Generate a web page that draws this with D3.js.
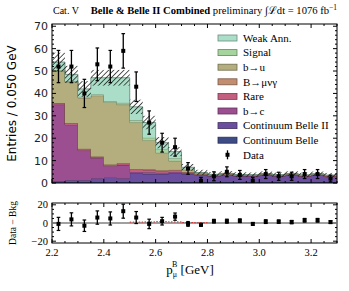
<!DOCTYPE html>
<html>
<head>
<meta charset="utf-8">
<script src="https://cdn.jsdelivr.net/npm/d3@7"></script>
<style>
  body { margin: 0; background: #fff; }
  svg { display: block; }
  .serif { font-family: "Liberation Serif", "DejaVu Serif", serif; }
  .sans { font-family: "DejaVu Sans", sans-serif; }
</style>
</head>
<body>
<svg id="chart" width="349" height="291" viewBox="0 0 349 291"></svg>
<script>
// bins of 0.050 GeV from 2.2 to 3.3
const binLow = [2.20,2.25,2.30,2.35,2.40,2.45,2.50,2.55,2.60,2.65,2.70,2.75,2.80,2.85,2.90,2.95,3.00,3.05,3.10,3.15,3.20,3.25]
const binWidth = 0.05

// stacked components (bottom to top)
const contBelle  = [0.5,0.5,0.5,0.5,0.5,0.5,0.5,0.5,0.5,0.5,0.5,0.4,0.4,0.4,0.4,0.4,0.4,0.4,0.4,0.4,0.4,0.4]
const contBelle2 = [0.3,0.7,0.7,1.5,2.0,1.5,4.0,3.5,3.5,4.0,3.5,3.0,2.5,3.0,2.5,2.5,3.0,2.5,3.0,2.5,3.0,2.5]
const bToC       = [34.2,24.8,13.3,9.0,5.0,6.0,0.5,0.8,0.6,0.5,0.3,0.2,0.2,0.2,0.2,0.2,0.2,0.2,0.2,0.2,0.2,0.1]
const rare       = [0.5,0.6,0.6,0.6,0.6,0.6,1.0,1.0,0.8,0.6,0.4,0.2,0.2,0.2,0.2,0.2,0.2,0.2,0.2,0.1,0.1,0.1]
const bMuNuGamma = [0.2,0.2,0.2,0.2,0.2,0.3,0.3,0.3,0.3,0.3,0.2,0.1,0.1,0.1,0.1,0.1,0.1,0.1,0.1,0.1,0.1,0.1]
const bToU       = [14.3,18.2,22.7,27.2,27.7,26.1,20.7,12.9,7.8,4.0,1.0,0.3,0.2,0.2,0.2,0.1,0.1,0.1,0.1,0.1,0.1,0.1]
const signal     = [0.5,0.5,0.5,0.5,0.5,0.8,1.0,1.2,1.5,1.2,0.5,0.3,0.2,0.1,0.1,0.1,0.1,0.1,0.1,0.1,0.1,0.1]
const weakAnn    = [3.5,3.0,3.5,7.5,10.5,11.2,6.0,6.8,3.0,2.9,0.6,0.2,0.1,0.1,0.1,0.1,0.1,0.1,0.1,0.1,0.1,0.1]

// MC uncertainty (hatched band)
const mcErr = [4.2,3.8,3.5,3.5,3.5,3.5,3.2,3.0,2.5,2.0,1.5,1.2,1.0,1.0,1.0,1.0,1.0,1.0,1.0,1.0,1.0,1.0]

// data
const dataVal = [52,52,40,53,52,59,43,27,18,16,6.5,1,3,5,3.6,1,4,3,3,4,4,2]
const dataErr = [7.2,7.2,6.3,7.3,7.2,7.7,6.6,5.2,4.2,4.0,2.6,1.5,2.0,2.2,2.0,1.5,2.0,1.8,1.8,2.0,2.0,1.5]

// data - bkg
const residVal = [-1,4,-3,6,5,13,6,-1,2,7,-1,-2,2,2,2.5,-1,1.5,1.5,1,3,3,1]

const layerNames  = ["Continuum Belle","Continuum Belle II","b\u2192c","Rare","B\u2192\u03bc\u03bd\u03b3","b\u2192u","Signal","Weak Ann."]
const layerColors = ["#3e4c86","#6b4f9e","#9b4f90","#c4607f","#c38e70","#b4ad7d","#a6d49d","#abdec8"]
const layerData   = [contBelle,contBelle2,bToC,rare,bMuNuGamma,bToU,signal,weakAnn]

const svg = d3.select("#chart")
const M = {left: 52, right: 337, top: 24, bottom: 183}
const R = {top: 203, bottom: 243}

const x = d3.scaleLinear().domain([2.2, 3.3]).range([M.left, M.right])
const y = d3.scaleLinear().domain([0, 71]).range([M.bottom, M.top])
const yr = d3.scaleLinear().domain([-22, 22]).range([R.bottom, R.top])

// hatch pattern
const defs = svg.append("defs")
const pat = defs.append("pattern")
    .attr("id", "hatch")
    .attr("patternUnits", "userSpaceOnUse")
    .attr("width", 3.6).attr("height", 3.6)
    .attr("patternTransform", "rotate(45)")
pat.append("line")
    .attr("x1", 0).attr("y1", 0).attr("x2", 0).attr("y2", 3.6)
    .attr("stroke", "#111").attr("stroke-width", 1.4)
defs.append("clipPath").attr("id", "clipMain")
    .append("rect").attr("x", M.left).attr("y", M.top)
    .attr("width", M.right - M.left).attr("height", M.bottom - M.top)

// stack
const table = binLow.map((b, i) => {
    const row = {lo: b, hi: b + binWidth}
    layerNames.forEach((n, k) => row[n] = layerData[k][i])
    return row
})
const stacked = d3.stack().keys(layerNames)(table)

const stepArea = d3.area()
    .x(d => x(d.xv))
    .y0(d => y(d.y0))
    .y1(d => y(d.y1))
const stepLine = d3.line()
    .x(d => x(d.xv))
    .y(d => y(d.y1))

const plot = svg.append("g").attr("clip-path", "url(#clipMain)")

stacked.forEach((layer, k) => {
    const pts = []
    layer.forEach(d => {
        pts.push({xv: d.data.lo, y0: d[0], y1: d[1]})
        pts.push({xv: d.data.hi, y0: d[0], y1: d[1]})
    })
    plot.append("path")
        .datum(pts)
        .attr("d", stepArea)
        .attr("fill", layerColors[k])
    plot.append("path")
        .datum(pts)
        .attr("d", stepLine)
        .attr("fill", "none")
        .attr("stroke", d3.color(layerColors[k]).darker(1.3))
        .attr("stroke-width", 0.9)
})

// uncertainty band
const topLayer = stacked[stacked.length - 1]
plot.selectAll(".band")
    .data(topLayer)
    .enter()
    .append("rect")
    .attr("x", d => x(d.data.lo))
    .attr("width", d => x(d.data.hi) - x(d.data.lo))
    .attr("y", (d, i) => y(d[1] + mcErr[i]))
    .attr("height", (d, i) => y(d[1] - mcErr[i]) - y(d[1] + mcErr[i]))
    .attr("fill", "url(#hatch)")

// data points
function drawPoints(g, vals, errs, ys) {
    const pts = g.selectAll(".pt")
        .data(vals)
        .enter()
        .append("g")
        .attr("transform", (d, i) => `translate(${x(binLow[i] + binWidth / 2)},0)`)
    pts.append("line")
        .attr("y1", (d, i) => ys(d - errs[i]))
        .attr("y2", (d, i) => ys(d + errs[i]))
        .attr("stroke", "#000").attr("stroke-width", 1.3)
    pts.append("line")
        .attr("x1", -1.8).attr("x2", 1.8)
        .attr("y1", (d, i) => ys(d - errs[i])).attr("y2", (d, i) => ys(d - errs[i]))
        .attr("stroke", "#000").attr("stroke-width", 1.2)
    pts.append("line")
        .attr("x1", -1.8).attr("x2", 1.8)
        .attr("y1", (d, i) => ys(d + errs[i])).attr("y2", (d, i) => ys(d + errs[i]))
        .attr("stroke", "#000").attr("stroke-width", 1.2)
    pts.append("rect")
        .attr("x", -2).attr("width", 4)
        .attr("y", d => ys(d) - 2).attr("height", 4)
        .attr("fill", "#000")
}
drawPoints(plot, dataVal, dataErr, y)

// axes with inward ticks
function frame(y0, y1, ys, yMajor, yMinor, showX) {
    const g = svg.append("g")
    g.append("rect")
        .attr("x", M.left).attr("y", y0)
        .attr("width", M.right - M.left).attr("height", y1 - y0)
        .attr("fill", "none").attr("stroke", "#000").attr("stroke-width", 1)
    const xMajor = d3.range(2.2, 3.31, 0.2)
    const xMinor = d3.range(2.2, 3.31, 0.05)
    xMinor.forEach(v => {
        const big = xMajor.some(m => Math.abs(m - v) < 1e-6)
        const len = big ? 4 : 2
        g.append("line").attr("x1", x(v)).attr("x2", x(v)).attr("y1", y1).attr("y2", y1 - len).attr("stroke", "#000")
        g.append("line").attr("x1", x(v)).attr("x2", x(v)).attr("y1", y0).attr("y2", y0 + len).attr("stroke", "#000")
    })
    yMinor.forEach(v => {
        const big = yMajor.includes(v)
        const len = big ? 4 : 2
        g.append("line").attr("x1", M.left).attr("x2", M.left + len).attr("y1", ys(v)).attr("y2", ys(v)).attr("stroke", "#000")
        g.append("line").attr("x1", M.right).attr("x2", M.right - len).attr("y1", ys(v)).attr("y2", ys(v)).attr("stroke", "#000")
    })
    if (showX) {
        g.selectAll(".xl").data(xMajor.slice(0, 6)).enter().append("text")
            .attr("class", "serif")
            .attr("x", d => x(d)).attr("y", y1 + 13)
            .attr("text-anchor", "middle")
            .attr("font-size", 10.5)
            .text(d => d3.format(".1f")(d))
    }
    return g
}

const gMain = frame(M.top, M.bottom, y, d3.range(0, 71, 10), d3.range(0, 71, 2), false)
gMain.selectAll(".yl").data(d3.range(0, 71, 10)).enter().append("text")
    .attr("class", "sans")
    .attr("x", M.left - 4).attr("y", d => y(d) + 4)
    .attr("text-anchor", "end")
    .attr("font-size", 11)
    .attr("fill", "#222")
    .text(d => d)

// ratio panel
const gRes = frame(R.top, R.bottom, yr, [-20, 0, 20], d3.range(-20, 21, 5), true)
gRes.selectAll(".yl").data([-20, 0, 20]).enter().append("text")
    .attr("class", "serif")
    .attr("x", M.left - 4).attr("y", d => yr(d) + 3.5)
    .attr("text-anchor", "end")
    .attr("font-size", 10.5)
    .text(d => d < 0 ? "\u2212" + Math.abs(d) : d)
svg.append("line")
    .attr("x1", M.left).attr("x2", M.right)
    .attr("y1", yr(0)).attr("y2", yr(0))
    .attr("stroke", "#808080").attr("stroke-width", 1.6)
const sigPts = []
signal.forEach((s, i) => {
    if (i >= 6 && i <= 11) {
        sigPts.push([binLow[i], s]); sigPts.push([binLow[i] + binWidth, s])
    }
})
svg.append("path")
    .datum(sigPts)
    .attr("d", d3.line().x(d => x(d[0])).y(d => yr(d[1])))
    .attr("fill", "none")
    .attr("stroke", "#d22").attr("stroke-width", 1)
    .attr("stroke-dasharray", "1.5,1.5")
drawPoints(svg.append("g"), residVal, dataErr, yr)

// legend
const rowH = 14.6
const legend = svg.append("g").attr("transform", "translate(218,38)")
const legRows = layerNames.slice().reverse()
const legCols = layerColors.slice().reverse()
legRows.forEach((n, i) => {
    const row = legend.append("g").attr("transform", `translate(0,${i * rowH})`)
    row.append("rect")
        .attr("x", 0).attr("y", -3).attr("width", 19).attr("height", 6)
        .attr("fill", legCols[i])
        .attr("stroke", d3.color(legCols[i]).darker(1.3)).attr("stroke-width", 0.8)
    row.append("text")
        .attr("class", "serif")
        .attr("x", 25).attr("y", 3.8)
        .attr("font-size", 11)
        .text(n)
})
const dataRow = legend.append("g").attr("transform", `translate(9.5,${8 * rowH})`)
dataRow.append("line").attr("y1", -4.5).attr("y2", 4.5).attr("stroke", "#000").attr("stroke-width", 1.3)
dataRow.append("rect").attr("x", -2).attr("y", -2).attr("width", 4).attr("height", 4).attr("fill", "#000")
dataRow.append("text").attr("class", "serif").attr("x", 15.5).attr("y", 3.8).attr("font-size", 11).text("Data")

// titles
svg.append("text").attr("class", "serif")
    .attr("x", M.left + 1).attr("y", 14).attr("font-size", 10).text("Cat. V")
const title = svg.append("text").attr("class", "serif")
    .attr("x", M.right).attr("y", 14).attr("font-size", 10.6).attr("text-anchor", "end")
title.append("tspan").attr("font-weight", "bold").text("Belle & Belle II Combined")
title.append("tspan").text(" preliminary ")
title.append("tspan").text("\u222B\u2112dt = 1076 fb")
title.append("tspan").attr("font-size", 7.5).attr("dy", -4).text("\u22121")

// axis labels
svg.append("text").attr("class", "sans")
    .attr("transform", `translate(16,${(M.top + M.bottom) / 2}) rotate(-90)`)
    .attr("text-anchor", "middle").attr("font-size", 12)
    .text("Entries / 0.050 GeV")
svg.append("text").attr("class", "serif")
    .attr("transform", `translate(16,${(R.top + R.bottom) / 2}) rotate(-90)`)
    .attr("text-anchor", "middle").attr("font-size", 9.5)
    .text("Data \u2212 Bkg")
const xl = svg.append("text").attr("class", "serif")
    .attr("x", 190).attr("y", 274).attr("font-size", 13)
    .attr("text-anchor", "middle")
xl.append("tspan").text("p")
xl.append("tspan").attr("font-size", 8).attr("dy", 3).attr("dx", 0).text("\u03bc")
xl.append("tspan").attr("font-size", 8).attr("dy", -10).attr("dx", -5).text("B")
xl.append("tspan").attr("dy", 7).text(" [GeV]")
</script>
</body>
</html>
